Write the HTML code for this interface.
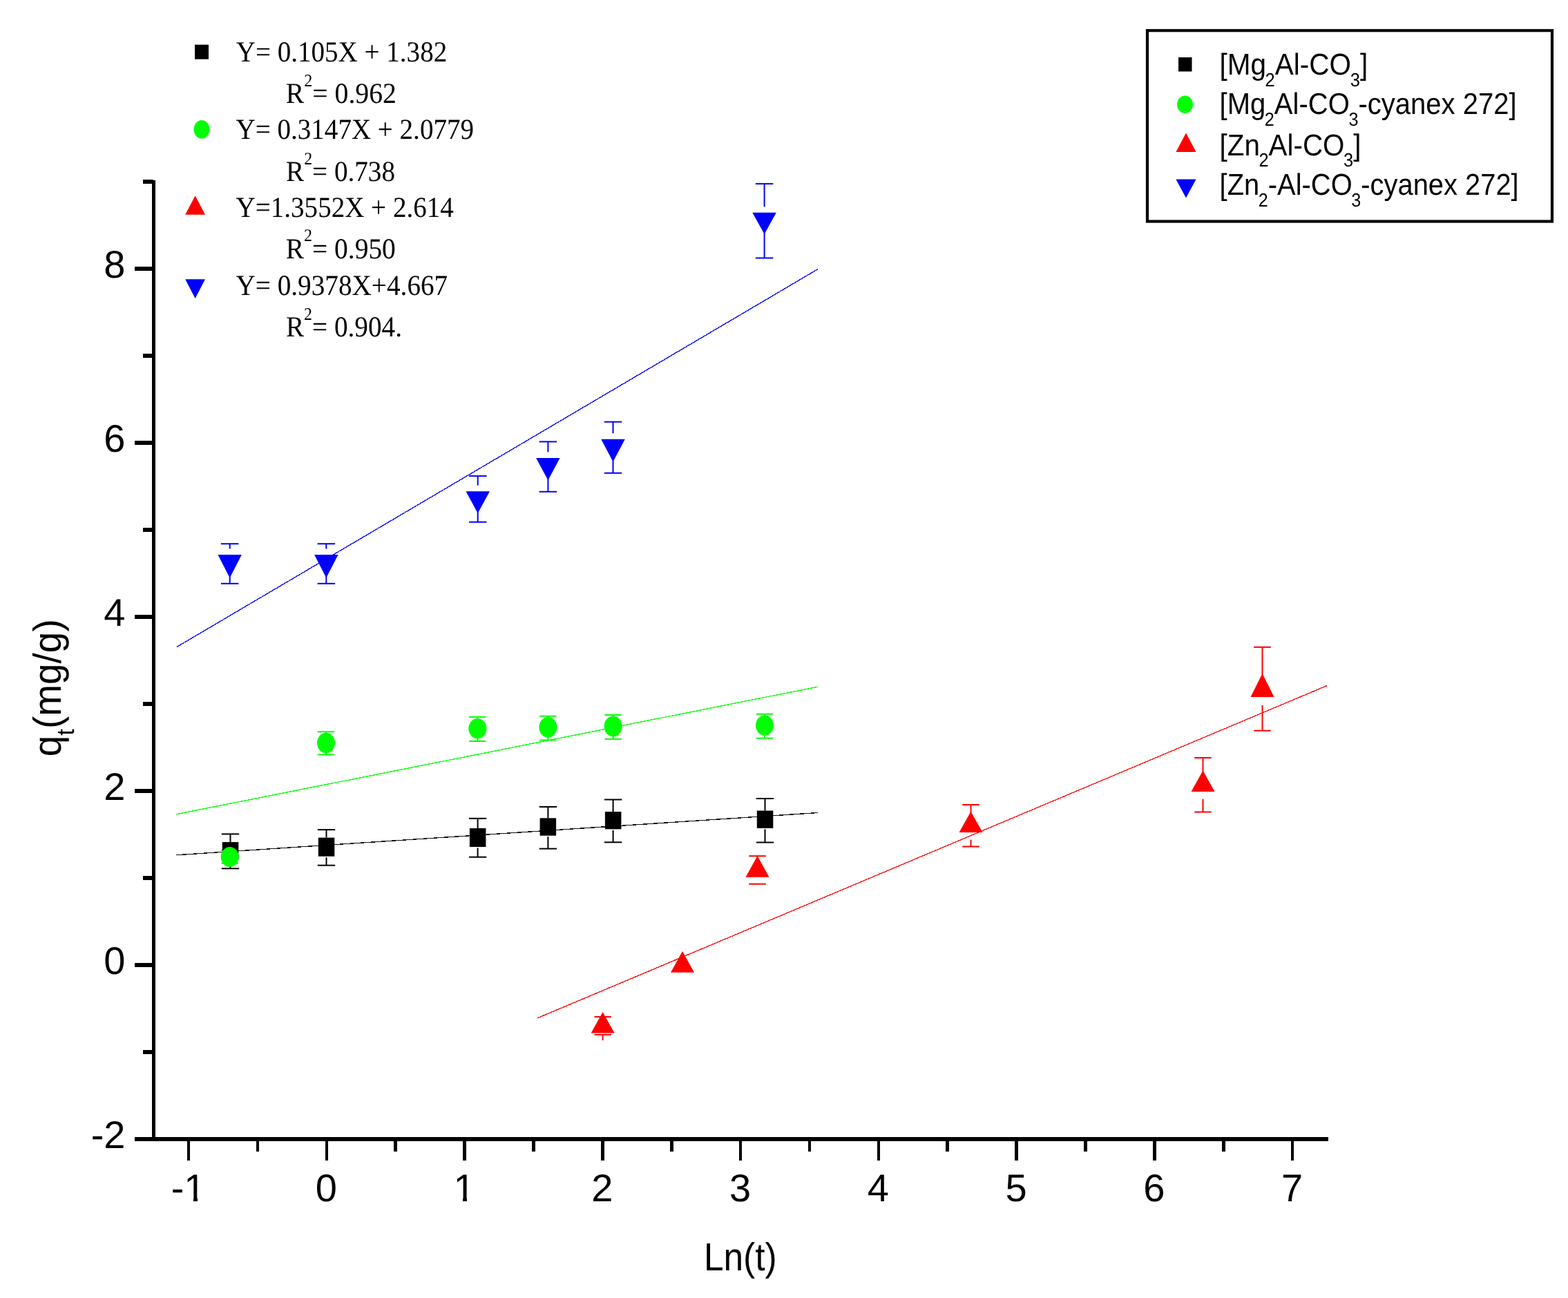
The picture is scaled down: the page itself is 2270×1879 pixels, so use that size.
<!DOCTYPE html>
<html><head><meta charset="utf-8"><style>
html,body{margin:0;padding:0;background:#fff;overflow:hidden}
svg{display:block}
text{text-rendering:geometricPrecision}
.sans{font-family:"Liberation Sans",Arial,sans-serif}
.serif{font-family:"Liberation Serif","Times New Roman",serif}
</style></head><body>
<svg width="2270" height="1879" viewBox="0 0 2270 1879">
<rect width="2270" height="1879" fill="#fff"/>
<g shape-rendering="crispEdges"><line x1="255" y1="1237.8" x2="1184" y2="1176.5" stroke="#111" stroke-width="1.35"/><line x1="255" y1="1178.8" x2="1184" y2="994.2" stroke="#00ff00" stroke-width="1.35"/><line x1="256" y1="936.5" x2="1184" y2="389.6" stroke="#0000ff" stroke-width="1.35"/><line x1="778.3" y1="1473.7" x2="1921.4" y2="992.4" stroke="#ff0000" stroke-width="1.35"/></g>
<g><line x1="320.8" y1="1207.4" x2="346.2" y2="1207.4" stroke="#000" stroke-width="2.0"/><line x1="320.8" y1="1257.3" x2="346.2" y2="1257.3" stroke="#000" stroke-width="2.0"/><line x1="333.5" y1="1207.4" x2="333.5" y2="1219.0" stroke="#000" stroke-width="2.0"/><line x1="333.5" y1="1246.5" x2="333.5" y2="1257.3" stroke="#000" stroke-width="2.0"/><line x1="459.8" y1="1201.1" x2="485.2" y2="1201.1" stroke="#000" stroke-width="2.0"/><line x1="459.8" y1="1252.7" x2="485.2" y2="1252.7" stroke="#000" stroke-width="2.0"/><line x1="472.5" y1="1201.1" x2="472.5" y2="1212.6" stroke="#000" stroke-width="2.0"/><line x1="472.5" y1="1241.2" x2="472.5" y2="1252.7" stroke="#000" stroke-width="2.0"/><line x1="678.9" y1="1184.8" x2="704.3" y2="1184.8" stroke="#000" stroke-width="2.0"/><line x1="678.9" y1="1240.7" x2="704.3" y2="1240.7" stroke="#000" stroke-width="2.0"/><line x1="691.6" y1="1184.8" x2="691.6" y2="1199.0" stroke="#000" stroke-width="2.0"/><line x1="691.6" y1="1227.5" x2="691.6" y2="1240.7" stroke="#000" stroke-width="2.0"/><line x1="780.7" y1="1168.0" x2="806.1" y2="1168.0" stroke="#000" stroke-width="2.0"/><line x1="780.7" y1="1228.6" x2="806.1" y2="1228.6" stroke="#000" stroke-width="2.0"/><line x1="793.4" y1="1168.0" x2="793.4" y2="1184.3" stroke="#000" stroke-width="2.0"/><line x1="793.4" y1="1211.2" x2="793.4" y2="1228.6" stroke="#000" stroke-width="2.0"/><line x1="874.9" y1="1157.5" x2="900.3" y2="1157.5" stroke="#000" stroke-width="2.0"/><line x1="874.9" y1="1219.3" x2="900.3" y2="1219.3" stroke="#000" stroke-width="2.0"/><line x1="887.6" y1="1157.5" x2="887.6" y2="1175.0" stroke="#000" stroke-width="2.0"/><line x1="887.6" y1="1201.8" x2="887.6" y2="1219.3" stroke="#000" stroke-width="2.0"/><line x1="1094.8" y1="1156.0" x2="1120.2" y2="1156.0" stroke="#000" stroke-width="2.0"/><line x1="1094.8" y1="1219.5" x2="1120.2" y2="1219.5" stroke="#000" stroke-width="2.0"/><line x1="1107.5" y1="1156.0" x2="1107.5" y2="1173.5" stroke="#000" stroke-width="2.0"/><line x1="1107.5" y1="1200.4" x2="1107.5" y2="1219.5" stroke="#000" stroke-width="2.0"/><line x1="320.4" y1="1231.0" x2="344.9" y2="1231.0" stroke="#00ff00" stroke-width="2.0"/><line x1="320.4" y1="1249.7" x2="344.9" y2="1249.7" stroke="#00ff00" stroke-width="2.0"/><line x1="332.7" y1="1231.0" x2="332.7" y2="1226.9" stroke="#00ff00" stroke-width="2.0"/><line x1="332.7" y1="1253.9" x2="332.7" y2="1249.7" stroke="#00ff00" stroke-width="2.0"/><line x1="459.8" y1="1059.3" x2="484.2" y2="1059.3" stroke="#00ff00" stroke-width="2.0"/><line x1="459.8" y1="1092.4" x2="484.2" y2="1092.4" stroke="#00ff00" stroke-width="2.0"/><line x1="472.0" y1="1059.3" x2="472.0" y2="1061.7" stroke="#00ff00" stroke-width="2.0"/><line x1="472.0" y1="1089.3" x2="472.0" y2="1092.4" stroke="#00ff00" stroke-width="2.0"/><line x1="679.1" y1="1037.9" x2="703.6" y2="1037.9" stroke="#00ff00" stroke-width="2.0"/><line x1="679.1" y1="1073.0" x2="703.6" y2="1073.0" stroke="#00ff00" stroke-width="2.0"/><line x1="691.4" y1="1037.9" x2="691.4" y2="1041.0" stroke="#00ff00" stroke-width="2.0"/><line x1="691.4" y1="1068.3" x2="691.4" y2="1073.0" stroke="#00ff00" stroke-width="2.0"/><line x1="781.1" y1="1036.7" x2="805.6" y2="1036.7" stroke="#00ff00" stroke-width="2.0"/><line x1="781.1" y1="1071.4" x2="805.6" y2="1071.4" stroke="#00ff00" stroke-width="2.0"/><line x1="793.4" y1="1036.7" x2="793.4" y2="1038.9" stroke="#00ff00" stroke-width="2.0"/><line x1="793.4" y1="1066.6" x2="793.4" y2="1071.4" stroke="#00ff00" stroke-width="2.0"/><line x1="875.5" y1="1035.0" x2="900.0" y2="1035.0" stroke="#00ff00" stroke-width="2.0"/><line x1="875.5" y1="1069.9" x2="900.0" y2="1069.9" stroke="#00ff00" stroke-width="2.0"/><line x1="887.7" y1="1035.0" x2="887.7" y2="1037.4" stroke="#00ff00" stroke-width="2.0"/><line x1="887.7" y1="1065.4" x2="887.7" y2="1069.9" stroke="#00ff00" stroke-width="2.0"/><line x1="1094.8" y1="1033.7" x2="1119.2" y2="1033.7" stroke="#00ff00" stroke-width="2.0"/><line x1="1094.8" y1="1068.6" x2="1119.2" y2="1068.6" stroke="#00ff00" stroke-width="2.0"/><line x1="1107.0" y1="1033.7" x2="1107.0" y2="1036.4" stroke="#00ff00" stroke-width="2.0"/><line x1="1107.0" y1="1063.7" x2="1107.0" y2="1068.6" stroke="#00ff00" stroke-width="2.0"/><line x1="860.4" y1="1472.0" x2="884.9" y2="1472.0" stroke="#ff0000" stroke-width="2.0"/><line x1="860.4" y1="1497.8" x2="884.9" y2="1497.8" stroke="#ff0000" stroke-width="2.0"/><line x1="872.6" y1="1472.0" x2="872.6" y2="1467.0" stroke="#ff0000" stroke-width="2.0"/><line x1="872.6" y1="1506.0" x2="872.6" y2="1497.8" stroke="#ff0000" stroke-width="2.0"/><line x1="1084.2" y1="1239.2" x2="1108.8" y2="1239.2" stroke="#ff0000" stroke-width="2.0"/><line x1="1084.2" y1="1279.7" x2="1108.8" y2="1279.7" stroke="#ff0000" stroke-width="2.0"/><line x1="1096.5" y1="1239.2" x2="1096.5" y2="1241.1" stroke="#ff0000" stroke-width="2.0"/><line x1="1096.5" y1="1280.4" x2="1096.5" y2="1279.7" stroke="#ff0000" stroke-width="2.0"/><line x1="1393.2" y1="1165.0" x2="1417.8" y2="1165.0" stroke="#ff0000" stroke-width="2.0"/><line x1="1393.2" y1="1225.5" x2="1417.8" y2="1225.5" stroke="#ff0000" stroke-width="2.0"/><line x1="1405.5" y1="1165.0" x2="1405.5" y2="1176.8" stroke="#ff0000" stroke-width="2.0"/><line x1="1405.5" y1="1215.6" x2="1405.5" y2="1225.5" stroke="#ff0000" stroke-width="2.0"/><line x1="1729.2" y1="1097.0" x2="1753.8" y2="1097.0" stroke="#ff0000" stroke-width="2.0"/><line x1="1729.2" y1="1175.5" x2="1753.8" y2="1175.5" stroke="#ff0000" stroke-width="2.0"/><line x1="1741.5" y1="1097.0" x2="1741.5" y2="1117.5" stroke="#ff0000" stroke-width="2.0"/><line x1="1741.5" y1="1156.7" x2="1741.5" y2="1175.5" stroke="#ff0000" stroke-width="2.0"/><line x1="1815.2" y1="936.8" x2="1839.8" y2="936.8" stroke="#ff0000" stroke-width="2.0"/><line x1="1815.2" y1="1057.7" x2="1839.8" y2="1057.7" stroke="#ff0000" stroke-width="2.0"/><line x1="1827.5" y1="936.8" x2="1827.5" y2="977.1" stroke="#ff0000" stroke-width="2.0"/><line x1="1827.5" y1="1021.0" x2="1827.5" y2="1057.7" stroke="#ff0000" stroke-width="2.0"/><line x1="319.9" y1="787.2" x2="345.4" y2="787.2" stroke="#0000ff" stroke-width="2.0"/><line x1="319.9" y1="844.8" x2="345.4" y2="844.8" stroke="#0000ff" stroke-width="2.0"/><line x1="332.7" y1="787.2" x2="332.7" y2="794.5" stroke="#0000ff" stroke-width="2.0"/><line x1="332.7" y1="834.4" x2="332.7" y2="844.8" stroke="#0000ff" stroke-width="2.0"/><line x1="459.6" y1="787.2" x2="485.1" y2="787.2" stroke="#0000ff" stroke-width="2.0"/><line x1="459.6" y1="844.8" x2="485.1" y2="844.8" stroke="#0000ff" stroke-width="2.0"/><line x1="472.3" y1="787.2" x2="472.3" y2="794.5" stroke="#0000ff" stroke-width="2.0"/><line x1="472.3" y1="834.4" x2="472.3" y2="844.8" stroke="#0000ff" stroke-width="2.0"/><line x1="679.0" y1="689.1" x2="704.5" y2="689.1" stroke="#0000ff" stroke-width="2.0"/><line x1="679.0" y1="755.7" x2="704.5" y2="755.7" stroke="#0000ff" stroke-width="2.0"/><line x1="691.7" y1="689.1" x2="691.7" y2="702.7" stroke="#0000ff" stroke-width="2.0"/><line x1="691.7" y1="740.9" x2="691.7" y2="755.7" stroke="#0000ff" stroke-width="2.0"/><line x1="780.6" y1="639.4" x2="806.1" y2="639.4" stroke="#0000ff" stroke-width="2.0"/><line x1="780.6" y1="711.8" x2="806.1" y2="711.8" stroke="#0000ff" stroke-width="2.0"/><line x1="793.4" y1="639.4" x2="793.4" y2="654.4" stroke="#0000ff" stroke-width="2.0"/><line x1="793.4" y1="693.2" x2="793.4" y2="711.8" stroke="#0000ff" stroke-width="2.0"/><line x1="874.8" y1="610.7" x2="900.2" y2="610.7" stroke="#0000ff" stroke-width="2.0"/><line x1="874.8" y1="684.8" x2="900.2" y2="684.8" stroke="#0000ff" stroke-width="2.0"/><line x1="887.5" y1="610.7" x2="887.5" y2="627.2" stroke="#0000ff" stroke-width="2.0"/><line x1="887.5" y1="666.6" x2="887.5" y2="684.8" stroke="#0000ff" stroke-width="2.0"/><line x1="1093.8" y1="266.1" x2="1119.3" y2="266.1" stroke="#0000ff" stroke-width="2.0"/><line x1="1093.8" y1="373.5" x2="1119.3" y2="373.5" stroke="#0000ff" stroke-width="2.0"/><line x1="1106.6" y1="266.1" x2="1106.6" y2="299.2" stroke="#0000ff" stroke-width="2.0"/><line x1="1106.6" y1="336.9" x2="1106.6" y2="373.5" stroke="#0000ff" stroke-width="2.0"/></g>
<g><rect x="321.8" y="1219.0" width="23.5" height="26" fill="#000"/><rect x="460.8" y="1212.6" width="23.5" height="27.100000000000136" fill="#000"/><rect x="679.9" y="1199.0" width="23.5" height="27" fill="#000"/><rect x="781.6" y="1184.3" width="23.5" height="25.40000000000009" fill="#000"/><rect x="875.9" y="1175.0" width="23.5" height="25.299999999999955" fill="#000"/><rect x="1095.8" y="1173.5" width="23.5" height="25.40000000000009" fill="#000"/><ellipse cx="332.7" cy="1240.4" rx="13" ry="14.5" fill="#00ff00"/><ellipse cx="472.0" cy="1075.5" rx="13" ry="14.799999999999955" fill="#00ff00"/><ellipse cx="691.4" cy="1054.7" rx="13" ry="14.649999999999977" fill="#00ff00"/><ellipse cx="793.4" cy="1052.8" rx="13" ry="14.849999999999909" fill="#00ff00"/><ellipse cx="887.7" cy="1051.4" rx="13" ry="15.0" fill="#00ff00"/><ellipse cx="1107.0" cy="1050.1" rx="13" ry="14.649999999999977" fill="#00ff00"/><polygon points="872.6,1465.0 889.6,1495.4 855.6,1495.4" fill="#ff0000"/><polygon points="988.0,1377.1 1005.0,1407.8 971.0,1407.8" fill="#ff0000"/><polygon points="1096.5,1239.1 1113.5,1269.7 1079.5,1269.7" fill="#ff0000"/><polygon points="1405.5,1174.8 1422.5,1205.0 1388.5,1205.0" fill="#ff0000"/><polygon points="1741.5,1115.5 1758.5,1146.0 1724.5,1146.0" fill="#ff0000"/><polygon points="1827.5,975.1 1844.5,1009.1 1810.5,1009.1" fill="#ff0000"/><polygon points="315.4,803.1 349.9,803.1 332.7,836.4" fill="#0000ff"/><polygon points="455.1,803.1 489.6,803.1 472.3,836.4" fill="#0000ff"/><polygon points="674.5,711.3 709.0,711.3 691.7,742.9" fill="#0000ff"/><polygon points="776.1,663.0 810.6,663.0 793.4,695.2" fill="#0000ff"/><polygon points="870.2,635.8 904.8,635.8 887.5,668.6" fill="#0000ff"/><polygon points="1089.3,307.8 1123.8,307.8 1106.6,338.9" fill="#0000ff"/></g>
<g shape-rendering="crispEdges"><rect x="220" y="261" width="5" height="1390.5" fill="#000"/><rect x="220" y="1645.5" width="1703" height="6" fill="#000"/><rect x="194.8" y="1646.4" width="27" height="5.6" fill="#000"/><rect x="206.5" y="1520.4" width="15" height="5.6" fill="#000"/><rect x="194.8" y="1394.4" width="27" height="5.6" fill="#000"/><rect x="206.5" y="1268.4" width="15" height="5.6" fill="#000"/><rect x="194.8" y="1142.4" width="27" height="5.6" fill="#000"/><rect x="206.5" y="1016.4" width="15" height="5.6" fill="#000"/><rect x="194.8" y="890.4" width="27" height="5.6" fill="#000"/><rect x="206.5" y="764.4" width="15" height="5.6" fill="#000"/><rect x="194.8" y="638.4" width="27" height="5.6" fill="#000"/><rect x="206.5" y="512.4" width="15" height="5.6" fill="#000"/><rect x="194.8" y="386.4" width="27" height="5.6" fill="#000"/><rect x="206.5" y="260.4" width="15" height="5.6" fill="#000"/><rect x="270.8" y="1650" width="4.6" height="30" fill="#000"/><rect x="370.6" y="1650" width="4.6" height="16.5" fill="#000"/><rect x="470.5" y="1650" width="4.6" height="30" fill="#000"/><rect x="570.4" y="1650" width="4.6" height="16.5" fill="#000"/><rect x="670.2" y="1650" width="4.6" height="30" fill="#000"/><rect x="770.1" y="1650" width="4.6" height="16.5" fill="#000"/><rect x="870.0" y="1650" width="4.6" height="30" fill="#000"/><rect x="969.9" y="1650" width="4.6" height="16.5" fill="#000"/><rect x="1069.8" y="1650" width="4.6" height="30" fill="#000"/><rect x="1169.6" y="1650" width="4.6" height="16.5" fill="#000"/><rect x="1269.5" y="1650" width="4.6" height="30" fill="#000"/><rect x="1369.4" y="1650" width="4.6" height="16.5" fill="#000"/><rect x="1469.2" y="1650" width="4.6" height="30" fill="#000"/><rect x="1569.1" y="1650" width="4.6" height="16.5" fill="#000"/><rect x="1669.0" y="1650" width="4.6" height="30" fill="#000"/><rect x="1768.9" y="1650" width="4.6" height="16.5" fill="#000"/><rect x="1868.8" y="1650" width="4.6" height="30" fill="#000"/></g>
<g class="sans" font-size="56" fill="#000"><text x="181.5" y="1662.2" text-anchor="end">-2</text><text x="181.5" y="1410.2" text-anchor="end">0</text><text x="181.5" y="1158.2" text-anchor="end">2</text><text x="181.5" y="906.2" text-anchor="end">4</text><text x="181.5" y="654.2" text-anchor="end">6</text><text x="181.5" y="402.2" text-anchor="end">8</text><text x="272.6" y="1739.0" text-anchor="middle">-1</text><text x="472.3" y="1739.0" text-anchor="middle">0</text><text x="672.0" y="1739.0" text-anchor="middle">1</text><text x="871.8" y="1739.0" text-anchor="middle">2</text><text x="1071.5" y="1739.0" text-anchor="middle">3</text><text x="1271.3" y="1739.0" text-anchor="middle">4</text><text x="1471.0" y="1739.0" text-anchor="middle">5</text><text x="1670.8" y="1739.0" text-anchor="middle">6</text><text x="1870.5" y="1739.0" text-anchor="middle">7</text></g>
<g fill="#fff" shape-rendering="crispEdges"><rect x="269" y="1734" width="11.2" height="5"/><rect x="285.6" y="1734" width="11" height="5"/><rect x="659" y="1734" width="11.3" height="5"/><rect x="675.7" y="1734" width="11" height="5"/></g>
<g fill="#000"><g transform="translate(1018.89,1839.09) scale(0.9521,1.0473)"><text x="0" y="0" class="sans" font-size="54">Ln(t)</text></g><g transform="translate(88.1,1095.29) rotate(-90) scale(1.018,1.05)"><text x="0" y="0" class="sans" font-size="54">q<tspan dy="18" font-size="34">t</tspan><tspan dy="-18">(mg/g)</tspan></text></g></g>
<g><rect x="282" y="64.7" width="20" height="21" fill="#000"/><ellipse cx="292" cy="187.3" rx="11.5" ry="13.3" fill="#00ff00"/><polygon points="282.6,283.2 297,310.8 268.2,310.8" fill="#ff0000"/><polygon points="268.2,404.3 297,404.3 282.6,432" fill="#0000ff"/></g>
<g fill="#000"><g transform="translate(341.82,89.10) scale(0.9294,1.0016)"><text x="0" y="0" class="serif" font-size="42">Y= 0.105X + 1.382</text></g><g transform="translate(413.73,149.00) scale(0.9453,1.0005)"><text x="0" y="0" class="serif" font-size="42">R<tspan dy="-24.4" font-size="25.5">2</tspan><tspan dy="24.4">= 0.962</tspan></text></g><g transform="translate(341.60,200.50) scale(0.9293,0.9973)"><text x="0" y="0" class="serif" font-size="42">Y= 0.3147X + 2.0779</text></g><g transform="translate(414.02,262.40) scale(0.9323,0.9983)"><text x="0" y="0" class="serif" font-size="42">R<tspan dy="-24.4" font-size="25.5">2</tspan><tspan dy="24.4">= 0.738</tspan></text></g><g transform="translate(341.60,313.60) scale(0.9295,0.9973)"><text x="0" y="0" class="serif" font-size="42">Y=1.3552X + 2.614</text></g><g transform="translate(413.63,373.59) scale(0.9396,0.9995)"><text x="0" y="0" class="serif" font-size="42">R<tspan dy="-24.4" font-size="25.5">2</tspan><tspan dy="24.4">= 0.950</tspan></text></g><g transform="translate(341.43,426.80) scale(0.9338,0.9995)"><text x="0" y="0" class="serif" font-size="42">Y= 0.9378X+4.667</text></g><g transform="translate(413.89,487.19) scale(0.9339,1.0005)"><text x="0" y="0" class="serif" font-size="42">R<tspan dy="-24.4" font-size="25.5">2</tspan><tspan dy="24.4">= 0.904.</tspan></text></g></g>
<g><rect x="1661" y="44.2" width="586" height="276.3" fill="none" stroke="#000" stroke-width="4.2"/><rect x="1706" y="83" width="19.5" height="20.5" fill="#000"/><ellipse cx="1715.5" cy="151.3" rx="11.5" ry="12.7" fill="#00ff00"/><polygon points="1717,192.6 1731.5,220 1702.4,220" fill="#ff0000"/><polygon points="1702.4,259.5 1731.5,259.5 1717,286.5" fill="#0000ff"/></g>
<g fill="#000"><g transform="translate(1765.45,107.91) scale(1.0006,1.0774)"><text x="0" y="0" class="sans" font-size="40.5">[Mg<tspan dx="-1.4" dy="15.6" font-size="25.5">2</tspan><tspan dy="-15.6">Al-CO</tspan><tspan dx="-1.4" dy="15.6" font-size="25.5">3</tspan><tspan dy="-15.6">]</tspan></text></g><g transform="translate(1765.52,165.41) scale(0.9882,1.0733)"><text x="0" y="0" class="sans" font-size="40.5">[Mg<tspan dx="-1.4" dy="15.6" font-size="25.5">2</tspan><tspan dy="-15.6">Al-CO</tspan><tspan dx="-1.4" dy="15.6" font-size="25.5">3</tspan><tspan dy="-15.6">-cyanex 272]</tspan></text></g><g transform="translate(1765.58,224.59) scale(0.9960,1.0792)"><text x="0" y="0" class="sans" font-size="40.5">[Zn<tspan dx="-1.4" dy="15.6" font-size="25.5">2</tspan><tspan dy="-15.6">Al-CO</tspan><tspan dx="-1.4" dy="15.6" font-size="25.5">3</tspan><tspan dy="-15.6">]</tspan></text></g><g transform="translate(1765.56,281.89) scale(0.9850,1.0774)"><text x="0" y="0" class="sans" font-size="40.5">[Zn<tspan dx="-1.4" dy="15.6" font-size="25.5">2</tspan><tspan dy="-15.6">-Al-CO</tspan><tspan dx="-1.4" dy="15.6" font-size="25.5">3</tspan><tspan dy="-15.6">-cyanex 272]</tspan></text></g></g>
</svg>
</body></html>
